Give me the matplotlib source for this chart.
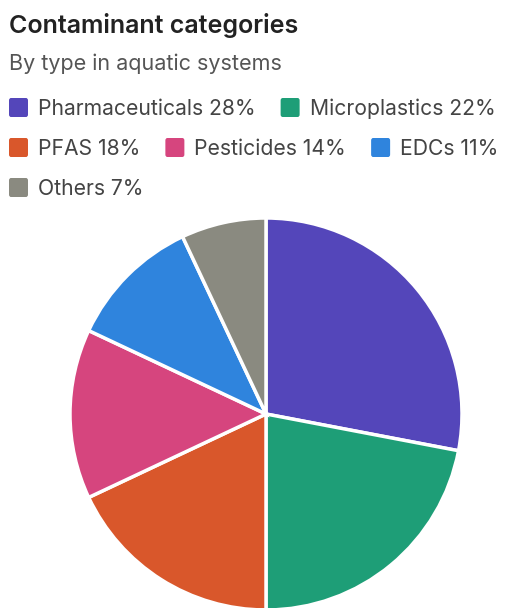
import matplotlib.pyplot as plt
from matplotlib.patches import FancyBboxPatch

plt.rcParams['font.family'] = ['Inter', 'DejaVu Sans']

categories = ['Pharmaceuticals', 'Microplastics', 'PFAS', 'Pesticides', 'EDCs', 'Others']
shares = [28, 22, 18, 14, 11, 7]
colors = ['#5446BA', '#1E9E77', '#D9572B', '#D6457E', '#2F84DD', '#8A8A80']

W, H = 506, 608
fig = plt.figure(figsize=(W / 100, H / 100), dpi=100)
fig.patch.set_facecolor('white')

fig.text(9 / W, 1 - 33 / H, 'Contaminant categories', fontsize=18, fontweight='semibold',
         color='#222222', va='baseline')
fig.text(9 / W, 1 - 70 / H, 'By type in aquatic systems', fontsize=15.5,
         color='#555555', va='baseline')

# legend, flowed into rows
renderer = fig.canvas.get_renderer()
x, base_y = 9, 115
max_x = 506
box = 19
for name, val, col in zip(categories, shares, colors):
    label = f'{name} {val}%'
    t = fig.text(0, 0, label, fontsize=15.2, color='#444444', va='baseline')
    tw = t.get_window_extent(renderer).width
    item_w = box + 10 + tw
    if x + item_w > max_x:
        x = 9
        base_y += 40
    t.set_position(((x + box + 10) / W, 1 - base_y / H))
    fig.patches.append(FancyBboxPatch(
        (x / W, 1 - (base_y - 7.5 + box / 2) / H), box / W, box / H,
        boxstyle='round,pad=0,rounding_size=0.004', transform=fig.transFigure,
        facecolor=col, edgecolor='none'))
    x += item_w + 25

# pie, center (266, 414) px, radius 196 px
r = 196
ax = fig.add_axes([(266 - r) / W, (H - 414 - r) / H, 2 * r / W, 2 * r / H])
ax.pie(shares, colors=colors, startangle=90, counterclock=False, radius=1,
       wedgeprops=dict(edgecolor='white', linewidth=2.5))
ax.set_xlim(-1, 1)
ax.set_ylim(-1, 1)
ax.set_aspect('equal')
ax.axis('off')

fig.savefig('out.png', dpi=100, facecolor='white')
